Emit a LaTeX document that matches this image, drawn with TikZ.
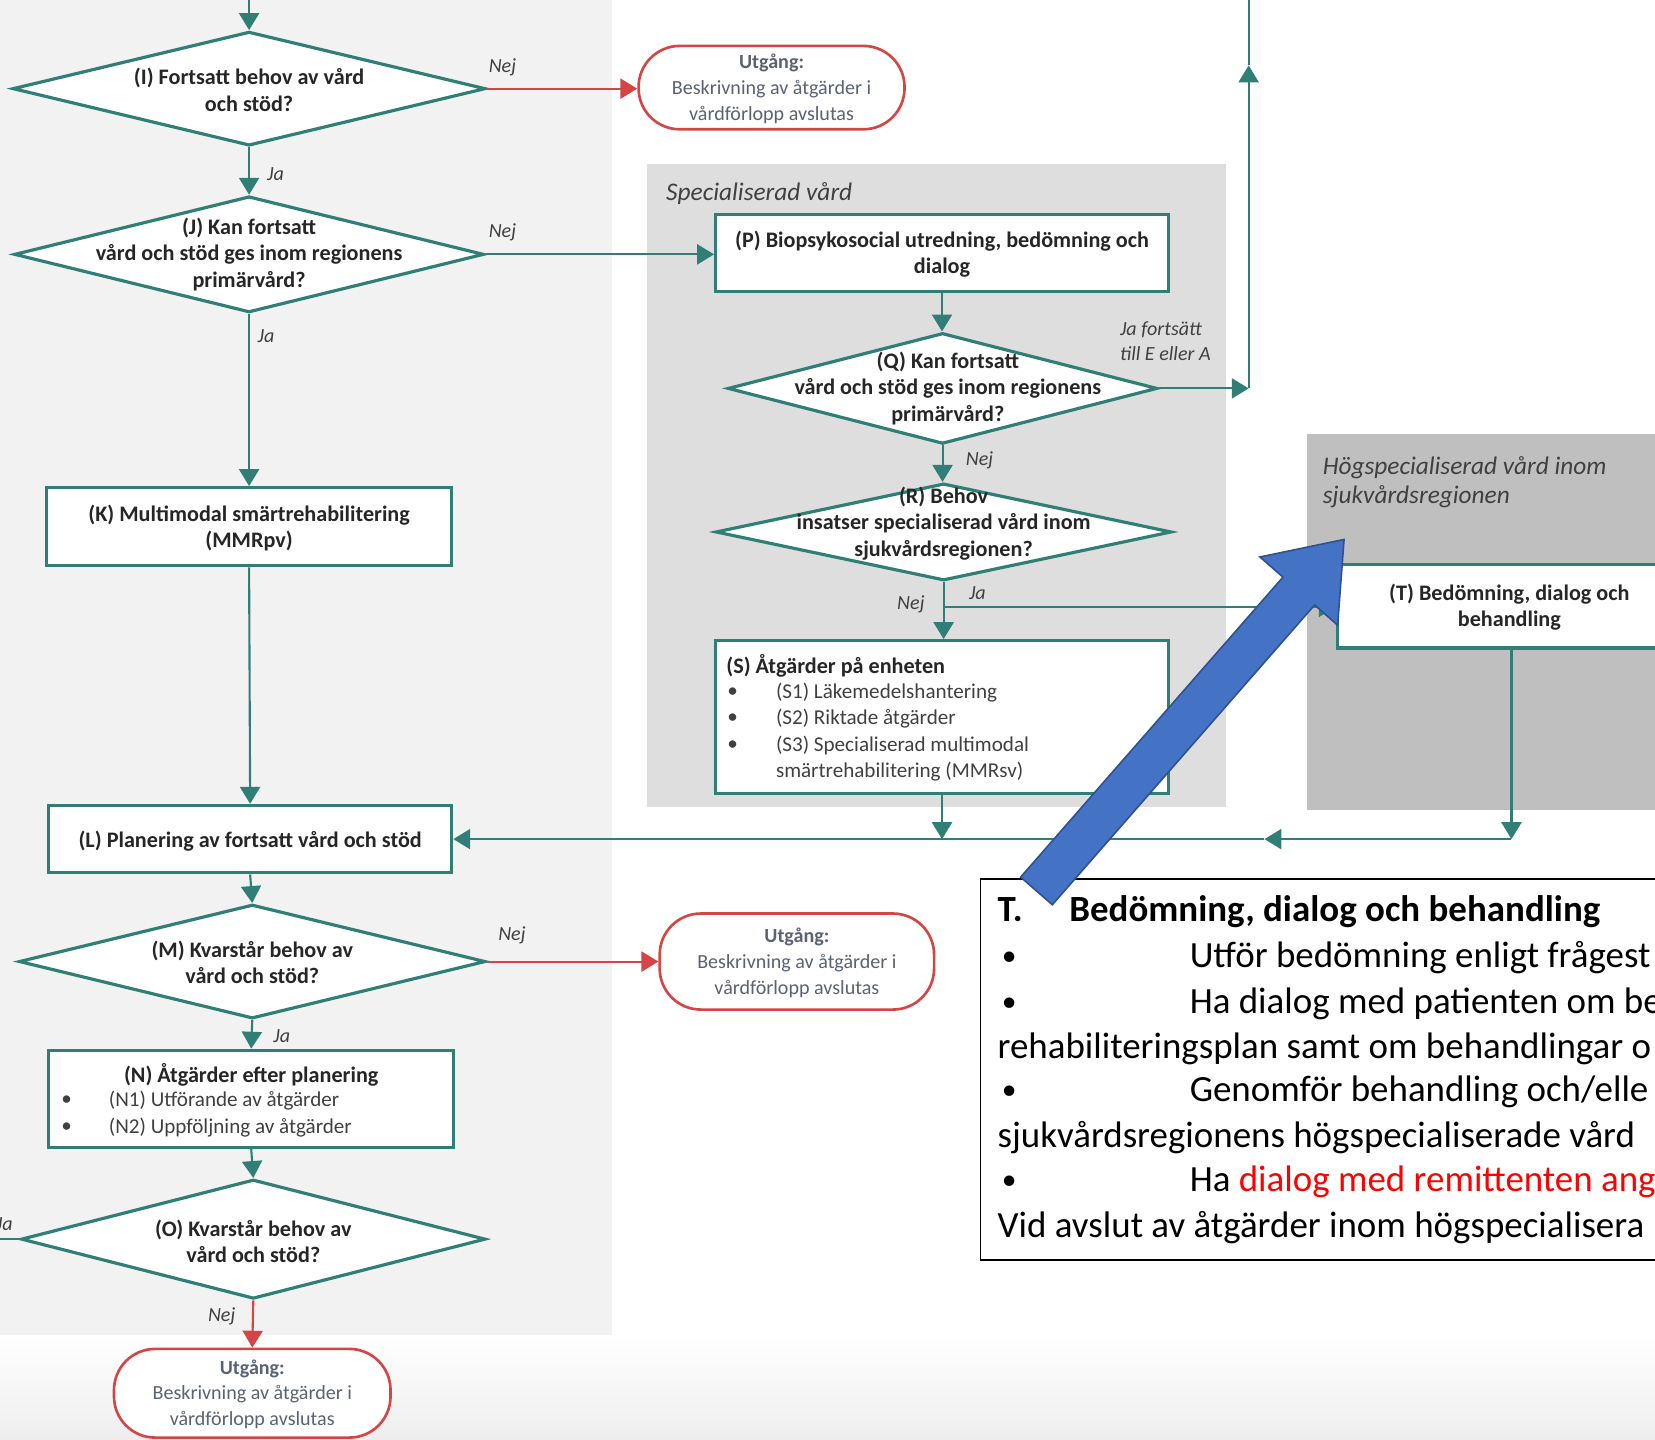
\documentclass[tikz,border=0pt]{standalone}
\usepackage{fontspec}
\setmainfont{Carlito}
\usetikzlibrary{shapes.geometric,arrows.meta}
\definecolor{flowteal}{HTML}{2F7F76}
\definecolor{exitred}{HTML}{D64545}
\definecolor{exittxt}{HTML}{5A6273}
\definecolor{textdark}{HTML}{262626}
\definecolor{lblgray}{HTML}{404040}
\definecolor{leftbg}{HTML}{F2F2F2}
\definecolor{specbg}{HTML}{DEDEDE}
\definecolor{hogbg}{HTML}{BFBFBF}
\definecolor{bgbot}{HTML}{EEEEEE}
\definecolor{blueA}{HTML}{4472C4}
\definecolor{blueB}{HTML}{2F528F}
\tikzset{
  conn/.style={draw=flowteal, line width=2pt},
  arr/.style={conn, -{Triangle[length=16pt,width=19pt]}},
  redarr/.style={draw=exitred, line width=2pt, -{Triangle[length=16pt,width=19pt]}},
  dia/.style={diamond, draw=flowteal, line width=3pt, fill=white, inner sep=0pt},
  flowbox/.style={rectangle, draw=flowteal, line width=3pt, fill=white, inner sep=0pt},
  exitbox/.style={rectangle, rounded corners=39pt, draw=exitred, line width=2.5pt, fill=white, inner sep=0pt},
  ftxt/.style={font=\fontsize{21}{25}\selectfont\bfseries, text=textdark, align=center, inner sep=0pt},
  rtxt/.style={font=\fontsize{20}{25}\selectfont, text=lblgray, inner sep=0pt, anchor=west},
  btxt/.style={font=\fontsize{21}{25}\selectfont\bfseries, text=textdark, inner sep=0pt, anchor=west},
  extxt/.style={font=\fontsize{19}{24.5}\selectfont, text=exittxt, align=center, inner sep=0pt},
  lbl/.style={font=\fontsize{19}{24}\selectfont\itshape, text=lblgray, inner sep=0pt},
  ttl/.style={font=\fontsize{24}{28}\selectfont\itshape, text=lblgray, inner sep=0pt, align=left, anchor=west},
  big/.style={font=\fontsize{35}{43}\selectfont, text=black, inner sep=0pt, anchor=base west},
  bigdot/.style={font=\fontsize{28}{43}\selectfont, text=black, inner sep=0pt, anchor=base west},
}
\begin{document}
\begin{tikzpicture}[x=1pt,y=-1pt]
\useasboundingbox (0,0) rectangle (1568,1364);
\clip (0,0) rectangle (1568,1364);
% backgrounds
\fill[white] (0,0) rectangle (1568,1364);
\shade[top color=white, bottom color=bgbot] (0,1265) rectangle (1568,1364);
\fill[leftbg] (0,0) rectangle (580,1265);
\fill[specbg] (613,155) rectangle (1162,765);
\fill[hogbg] (1238,411) rectangle (1568,767);

% panel titles
\node[ttl] (spectitle) at (631,183) {Specialiserad vård};
\node[ttl] (hogtitle) at (1253,457) {Högspecialiserad vård inom\\sjukvårdsregionen};

% left column
\node[dia, minimum width=448pt, minimum height=108pt] (I) at (236,84) {};
\node[ftxt] (Itxt) at (236,85) {(I) Fortsatt behov av vård\\och stöd?};
\node[dia, minimum width=445pt, minimum height=110pt] (J) at (236,241) {};
\node[ftxt] (Jtxt) at (236,241) {(J) Kan fortsatt\\vård och stöd ges inom regionens\\primärvård?};
\node[flowbox, minimum width=384pt, minimum height=74pt] (K) at (236,499) {};
\node[ftxt] (Ktxt) at (236,500) {(K) Multimodal smärtrehabilitering\\(MMRpv)};
\node[flowbox, minimum width=382pt, minimum height=64pt] (L) at (237,795) {};
\node[ftxt] (Ltxt) at (237,797) {(L) Planering av fortsatt vård och stöd};
\node[dia, minimum width=442pt, minimum height=108pt] (M) at (239,911) {};
\node[ftxt] (Mtxt) at (239,912) {(M) Kvarstår behov av\\vård och stöd?};
\node[flowbox, minimum width=384pt, minimum height=92pt] (N) at (238,1041) {};
\node[ftxt] (Ntxt) at (238,1018) {(N) Åtgärder efter planering};
\node[rtxt] (Nb1) at (58,1043) {•};
\node[rtxt] (N1) at (103,1043) {(N1) Utförande av åtgärder};
\node[rtxt] (Nb2) at (58,1068) {•};
\node[rtxt] (N2) at (103,1068) {(N2) Uppföljning av åtgärder};
\node[dia, minimum width=440pt, minimum height=113pt] (O) at (240,1174) {};
\node[ftxt] (Otxt) at (240,1176) {(O) Kvarstår behov av\\vård och stöd?};

% exits
\node[exitbox, minimum width=252pt, minimum height=79pt] (E1) at (731,83) {};
\node[extxt] (E1txt) at (731,84) {\textbf{Utgång:}\\Beskrivning av åtgärder i\\vårdförlopp avslutas};
\node[exitbox, minimum width=260pt, minimum height=91pt] (E2) at (755,911) {};
\node[extxt] (E2txt) at (755,912) {\textbf{Utgång:}\\Beskrivning av åtgärder i\\vårdförlopp avslutas};
\node[exitbox, minimum width=262pt, minimum height=84pt] (E3) at (239,1320) {};
\node[extxt] (E3txt) at (239,1321) {\textbf{Utgång:}\\Beskrivning av åtgärder i\\vårdförlopp avslutas};

% specialiserad
\node[flowbox, minimum width=429pt, minimum height=73pt] (P) at (892.5,239.5) {};
\node[ftxt] (Ptxt) at (892.5,241) {(P) Biopsykosocial utredning, bedömning och\\dialog};
\node[dia, minimum width=407pt, minimum height=105pt] (Q) at (893,368) {};
\node[ftxt] (Qtxt) at (898,368) {(Q) Kan fortsatt\\vård och stöd ges inom regionens\\primärvård?};
\node[dia, minimum width=432pt, minimum height=92pt] (R) at (894,504) {};
\node[ftxt] (Rtxt) at (894,496) {(R) Behov\\insatser specialiserad vård inom\\sjukvårdsregionen?};
\node[flowbox, minimum width=429pt, minimum height=145pt] (S) at (892.5,679.5) {};
\node[btxt] (Stitle) at (688,631) {(S) Åtgärder på enheten};
\node[rtxt] (Sb1) at (689,656) {•};
\node[rtxt] (S1) at (735,656) {(S1) Läkemedelshantering};
\node[rtxt] (Sb2) at (689,681) {•};
\node[rtxt] (S2) at (735,681) {(S2) Riktade åtgärder};
\node[rtxt] (Sb3) at (689,706) {•};
\node[rtxt] (S3) at (735,706) {(S3) Specialiserad multimodal};
\node[rtxt] (S4) at (735,731) {smärtrehabilitering (MMRsv)};

% hogspecialiserad
\node[flowbox, minimum width=333pt, minimum height=79pt] (T) at (1433.5,574.5) {};
\node[ftxt] (Ttxt) at (1430,575) {(T) Bedömning, dialog och\\behandling};

% connectors
\coordinate (topin) at (236,0);
\draw[arr] (topin) -- (I.north);
\draw[redarr] (I.east) -- (E1.west |- I.east);
\draw[arr] (I.south) -- (J.north);
\draw[arr] (J.east) -- (J.east -| P.west);
\draw[arr] (J.south) -- (K.north);
\draw[arr] (K.south) -- (L.north);
\draw[arr] (L.south) -- (M.north);
\draw[redarr] (M.east) -- (E2.west);
\draw[arr] (M.south) -- (N.north);
\draw[arr] (N.south) -- (O.north);
\coordinate (oleft) at (0,1174);
\draw[conn] (O.west) -- (oleft);
\draw[redarr] (O.south) -- (E3.north);
\draw[arr] (P.south) -- (P.south |- Q.north);
\coordinate (qr) at (1183,368);
\coordinate (upa) at (1183,62);
\coordinate (upt) at (1183,0);
\draw[arr] (Q.east) -- (qr);
\draw[arr] (qr) -- (upa);
\draw[conn] (upa) -- (upt);
\draw[arr] (Q.south) -- (Q.south |- R.north);
\coordinate (rj) at (894,575);
\draw[arr] (R.south) -- (R.south |- S.north);
\draw[arr] (rj) -- (rj -| T.west);
\coordinate (tb) at (1432,795);
\coordinate (mid) at (1198,795);
\draw[arr] (tb |- T.south) -- (tb);
\draw[arr] (tb) -- (mid);
\draw[arr] (mid) -- (L.east);
\draw[arr] (S.south) -- (S.south |- tb);

% connector labels
\node[lbl] (l1) at (476,64) {Nej};
\node[lbl] (l2) at (261,165) {Ja};
\node[lbl] (l3) at (476,220) {Nej};
\node[lbl] (l4) at (252,318) {Ja};
\node[lbl] (l5) at (485,886) {Nej};
\node[lbl] (l6) at (267,982) {Ja};
\node[lbl] (l7) at (4,1160) {Ja};
\node[lbl] (l8) at (210,1247) {Nej};
\node[lbl, align=left, anchor=west] (l9) at (1061,323) {Ja fortsätt\\till E eller A};
\node[lbl] (l10) at (928,436) {Nej};
\node[lbl] (l11) at (863,573) {Nej};
\node[lbl] (l12) at (926,562) {Ja};

% text box
\node[draw=black, line width=1.8pt, fill=white, minimum width=700pt, minimum height=361pt, inner sep=0pt, anchor=north west] (tbox) at (928,832) {};
\node[big, font=\fontsize{35}{43}\selectfont\bfseries] (t0a) at (945,873) {T.};
\node[big, font=\fontsize{35}{43}\selectfont\bfseries] (t0b) at (1013,873) {Bedömning, dialog och behandling};
\node[bigdot] (t1a) at (949,915) {•};
\node[big] (t1b) at (1127,917) {Utför bedömning enligt frågest};
\node[bigdot] (t2a) at (949,958) {•};
\node[big] (t2b) at (1127,960) {Ha dialog med patienten om be};
\node[big] (t3) at (945,1003) {rehabiliteringsplan samt om behandlingar o};
\node[bigdot] (t4a) at (949,1042) {•};
\node[big] (t4b) at (1127,1044) {Genomför behandling och/elle};
\node[big] (t5) at (945,1087) {sjukvårdsregionens högspecialiserade vård};
\node[bigdot] (t6a) at (949,1127) {•};
\node[big] (t6b) at (1127,1129) {Ha \textcolor{red}{dialog med remittenten ang}};
\node[big] (t7) at (945,1172) {Vid avslut av åtgärder inom högspecialisera};

% blue block arrow
\fill[blueA, draw=blueB, line width=1.5pt, line join=miter] (967,831) -- (1215.5,546.8) -- (1193.7,527.7) -- (1273.4,511.1) -- (1267.3,592.3) -- (1245.5,573.2) -- (997,857.2) -- cycle;
\end{tikzpicture}
\end{document}
